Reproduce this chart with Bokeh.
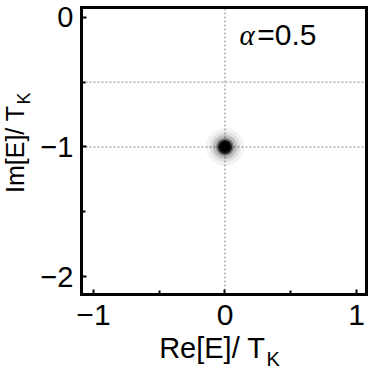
from bokeh.plotting import figure
from bokeh.models import FixedTicker, Range1d, Label, LinearAxis
from bokeh.embed import file_html
from bokeh.resources import INLINE

# ---- data ----
x_lo, x_hi = -1.091, 1.076          # axis limits of the plotted box
y_lo, y_hi = -2.137, 0.075
x_ticks = [-1, 0, 1]
x_tick_labels = ["\u22121", "0", "1"]
x_minor = [-0.5, 0.5]
y_ticks = [-2, -1, 0]
y_tick_labels = ["\u22122", "\u22121", "0"]
y_minor = [-1.5, -0.5]
x_grid = [0]
y_grid = [-0.5, -1]
pole_re = [0.0]
pole_im = [-1.0]
alpha_value = "0.5"
x_label = "Re[E]/ T"
y_label = "Im[E]/ T"
sub_label = "K"

# canvas-wide frame; the visible box is drawn by axes fixed at the box limits
W, H = 370, 377
fx0, fy0, fw, fh = 81, 7, 285, 287      # box position on the canvas (px)
ux = fw / (x_hi - x_lo)
uy = fh / (y_hi - y_lo)
xr = Range1d(x_lo - fx0 / ux, x_lo + (W - fx0) / ux)
yr = Range1d(y_hi - (H - fy0) / uy, y_hi + fy0 / uy)

p = figure(width=W, height=H, output_backend="svg", toolbar_location=None,
           x_range=xr, y_range=yr, min_border=0,
           min_border_left=0, min_border_right=0, min_border_top=0, min_border_bottom=0)
p.background_fill_color = "white"
p.border_fill_color = "white"
p.outline_line_color = None
p.grid.visible = False

for ax, ticks, minor, labels, loc, bnds in [
        (p.xaxis[0], x_ticks, x_minor, x_tick_labels, y_lo, (x_lo, x_hi)),
        (p.yaxis[0], y_ticks, y_minor, y_tick_labels, x_lo, (y_lo, y_hi))]:
    ax.fixed_location = loc
    ax.bounds = bnds
    ax.ticker = FixedTicker(ticks=ticks, minor_ticks=minor)
    ax.major_label_overrides = {t: l for t, l in zip(ticks, labels)}
    ax.axis_line_width = 3
    ax.axis_line_color = "black"
    ax.axis_line_cap = "square"
    ax.major_tick_in = 5
    ax.major_tick_out = 0
    ax.minor_tick_in = 4
    ax.minor_tick_out = 0
    ax.major_tick_line_width = 2
    ax.minor_tick_line_width = 2
    ax.major_tick_line_color = "black"
    ax.minor_tick_line_color = "black"
    ax.major_label_text_font = "Liberation Sans"
    ax.major_label_text_font_size = "29px"
    ax.major_label_text_color = "black"
    ax.major_label_standoff = 8
p.xaxis[0].major_label_standoff = 10
p.xaxis[0].major_label_text_font_size = "30px"

# top and right edges of the box
for loc, bnds, side in [(y_hi, (x_lo, x_hi), "above"), (x_hi, (y_lo, y_hi), "right")]:
    edge = LinearAxis(fixed_location=loc, bounds=bnds, ticker=FixedTicker(ticks=[]),
                      axis_line_width=3, axis_line_color="black", axis_line_cap="square",
                      major_tick_in=0, major_tick_out=0, minor_tick_in=0, minor_tick_out=0)
    p.add_layout(edge, side)

# dotted grid lines inside the box
p.segment(x0=x_grid, y0=[y_lo] * len(x_grid), x1=x_grid, y1=[y_hi] * len(x_grid),
          line_color="#8a8a8a", line_dash="2 2", line_width=1)
p.segment(x0=[x_lo] * len(y_grid), y0=y_grid, x1=[x_hi] * len(y_grid), y1=y_grid,
          line_color="#8a8a8a", line_dash="2 2", line_width=1)

# fuzzy pole marker
for size, a in [(38, 0.05), (30, 0.08), (24, 0.15), (18, 0.35), (14, 0.8), (10, 1.0)]:
    p.scatter(pole_re, pole_im, size=size, marker="circle", fill_color="black",
              fill_alpha=a, line_color=None)

# alpha annotation
p.add_layout(Label(x=0.11, y=-0.262, text="\u03b1", text_font="Liberation Serif",
                   text_font_style="italic", text_font_size="29px", text_color="black"))
p.add_layout(Label(x=0.245, y=-0.262, text="=" + alpha_value, text_font="Liberation Sans",
                   text_font_size="30px", text_color="black"))

def sx(px):
    return xr.start + px / ux

def sy(py):
    return yr.end - py / uy

# axis titles with subscript K
p.add_layout(Label(x=sx(265), y=sy(363), text=x_label, text_align="right",
                   text_font="Liberation Sans", text_font_size="29px", text_color="black"))
p.add_layout(Label(x=sx(266), y=sy(369), text=sub_label, text_align="left",
                   text_font="Liberation Sans", text_font_size="20px", text_color="black"))
p.add_layout(Label(x=sx(28), y=sy(105), text=y_label, angle=1.5708, text_align="right",
                   text_font="Liberation Sans", text_font_size="25px", text_color="black"))
p.add_layout(Label(x=sx(33), y=sy(104), text=sub_label, angle=1.5708, text_align="left",
                   text_font="Liberation Sans", text_font_size="18px", text_color="black"))

open("out.html", "w").write(file_html(p, INLINE))
